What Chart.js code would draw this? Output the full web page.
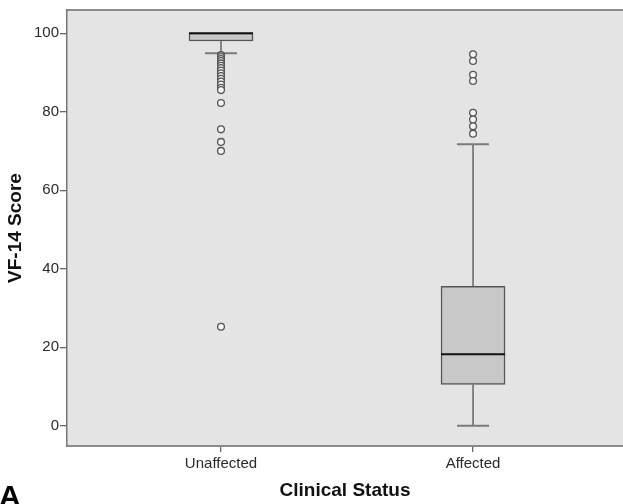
<!DOCTYPE html>
<html>
<head>
<meta charset="utf-8">
<script src="https://cdn.jsdelivr.net/npm/chart.js@4"></script>
<style>
  body { margin: 0; background: #fff; }
</style>
</head>
<body>
<canvas id="boxChart" width="623" height="504"></canvas>
<script>
// box plot summary
const categories = ['Unaffected', 'Affected'];
const q1 = [98.0, 10.5];
const median = [100, 18.2];
const q3 = [100, 35.5];
const whiskerLow = [94.9, 0];
const whiskerHigh = [100, 71.7];
const outliersUnaffected = [94.4, 93.9, 93.4, 92.9, 92.3, 91.7, 91.1, 90.5, 89.8, 89.1, 88.4, 87.7, 86.9, 86.1, 85.5, 82.2, 75.5, 72.3, 70.0, 25.2];
const outliersAffected = [94.6, 92.9, 89.4, 87.8, 79.7, 78.0, 76.3, 74.4];
const yTicks = [0, 20, 40, 60, 80, 100];

const boxData = categories.map((c, i) => ({ x: i + 1, y: [q1[i], q3[i]] }));
const outlierData = [
  ...outliersUnaffected.map(v => ({ x: 1, y: v })),
  ...outliersAffected.map(v => ({ x: 2, y: v }))
];

// background, frame, whiskers, medians
const boxPlotPlugin = {
  id: 'boxPlot',
  beforeDraw(chart) {
    const { ctx, chartArea: a } = chart;
    ctx.save();
    ctx.fillStyle = '#e4e4e4';
    ctx.fillRect(a.left, a.top, a.right - a.left, a.bottom - a.top);
    ctx.strokeStyle = '#8a8a8a';
    ctx.lineWidth = 2;
    ctx.beginPath();
    ctx.moveTo(a.left, a.top);
    ctx.lineTo(a.right, a.top);
    ctx.stroke();
    ctx.restore();
  },
  beforeDatasetsDraw(chart) {
    const { ctx, scales: { x, y } } = chart;
    const bars = chart.getDatasetMeta(0).data;
    ctx.save();
    categories.forEach((c, i) => {
      const px = x.getPixelForValue(i + 1);
      const half = bars[i].width / 4;
      ctx.strokeStyle = '#666';
      ctx.lineWidth = 1.5;
      ctx.beginPath();
      ctx.moveTo(px, y.getPixelForValue(q1[i]));
      ctx.lineTo(px, y.getPixelForValue(whiskerLow[i]));
      ctx.moveTo(px, y.getPixelForValue(q3[i]));
      ctx.lineTo(px, y.getPixelForValue(whiskerHigh[i]));
      ctx.stroke();
      ctx.strokeStyle = '#7a7a7a';
      ctx.lineWidth = 2;
      ctx.beginPath();
      [whiskerLow[i], whiskerHigh[i]].forEach(v => {
        if (v === q1[i] || v === q3[i]) return;
        const py = y.getPixelForValue(v);
        ctx.moveTo(px - half, py);
        ctx.lineTo(px + half, py);
      });
      ctx.stroke();
    });
    ctx.restore();
  },
  afterDatasetDraw(chart, args) {
    if (args.index !== 0) return;
    const { ctx, scales: { x, y } } = chart;
    const bars = chart.getDatasetMeta(0).data;
    ctx.save();
    ctx.strokeStyle = '#111';
    ctx.lineWidth = 2;
    categories.forEach((c, i) => {
      const px = x.getPixelForValue(i + 1);
      const half = bars[i].width / 2;
      const py = y.getPixelForValue(median[i]);
      ctx.beginPath();
      ctx.moveTo(px - half, py);
      ctx.lineTo(px + half, py);
      ctx.stroke();
    });
    ctx.restore();
  },
  afterDraw(chart) {
    const { ctx } = chart;
    ctx.save();
    ctx.fillStyle = '#000';
    ctx.font = 'bold 30px "Liberation Sans", Arial, sans-serif';
    ctx.textBaseline = 'alphabetic';
    ctx.fillText('A', -1, 506);
    ctx.restore();
  }
};

const ctx = document.getElementById('boxChart').getContext('2d');
new Chart(ctx, {
  data: {
    datasets: [
      {
        type: 'bar',
        label: 'Box',
        data: boxData,
        backgroundColor: '#c8c8c8',
        borderColor: '#555',
        borderWidth: 1.5,
        borderSkipped: false,
        barThickness: 64,
        order: 2
      },
      {
        type: 'scatter',
        label: 'Outliers',
        data: outlierData,
        pointStyle: 'circle',
        pointRadius: 3.4,
        backgroundColor: '#f4f4f4',
        borderColor: '#555',
        borderWidth: 1.3,
        order: 1
      }
    ]
  },
  options: {
    responsive: false,
    animation: false,
    layout: { autoPadding: false, padding: { top: 9, right: 0, bottom: 0, left: 0 } },
    plugins: {
      legend: { display: false },
      tooltip: { enabled: false }
    },
    scales: {
      x: {
        type: 'linear',
        min: 0.389,
        max: 2.595,
        offset: false,
        afterBuildTicks: (scale) => { scale.ticks = categories.map((c, i) => ({ value: i + 1 })); },
        afterFit: (scale) => { scale.height = 58; scale.paddingRight = 0; },
        ticks: {
          callback: (v) => categories[v - 1],
          color: '#2a2a2a',
          padding: 3,
          font: { family: '"Liberation Sans", Arial, sans-serif', size: 15 }
        },
        grid: { offset: false, drawOnChartArea: false, drawTicks: true, tickLength: 6, color: '#666', lineWidth: 1.3 },
        border: { display: true, color: '#8a8a8a', width: 2 },
        title: {
          display: true,
          text: 'Clinical Status',
          color: '#111',
          padding: { top: 0, bottom: 2 },
          font: { family: '"Liberation Sans", Arial, sans-serif', size: 19, weight: 'bold' }
        }
      },
      y: {
        min: -5.17,
        max: 105.9,
        afterBuildTicks: (scale) => { scale.ticks = yTicks.map(v => ({ value: v })); },
        afterFit: (scale) => { scale.width = 67; },
        ticks: {
          color: '#2a2a2a',
          padding: 1,
          font: { family: '"Liberation Sans", Arial, sans-serif', size: 15 }
        },
        grid: { drawOnChartArea: false, drawTicks: true, tickLength: 7, color: '#666', lineWidth: 1.3 },
        border: { display: true, color: '#777', width: 1.5 },
        title: {
          display: true,
          text: 'VF-14 Score',
          color: '#111',
          padding: { top: 4, bottom: 0 },
          font: { family: '"Liberation Sans", Arial, sans-serif', size: 19, weight: 'bold' }
        }
      }
    }
  },
  plugins: [boxPlotPlugin]
});
</script>
</body>
</html>
